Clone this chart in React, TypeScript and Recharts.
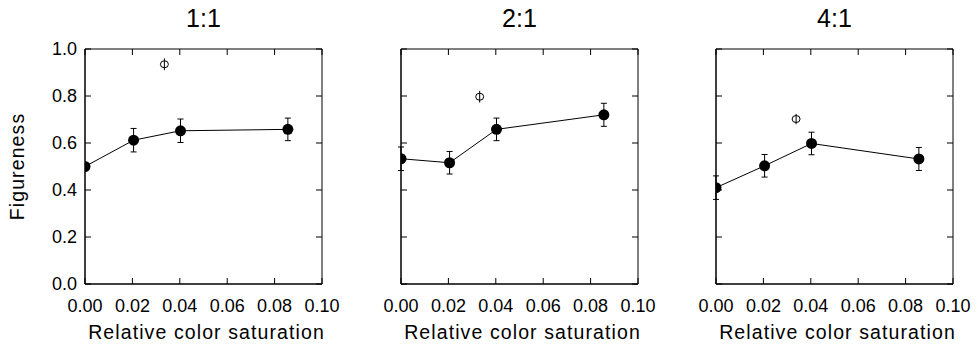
import { ScatterChart, Scatter, XAxis, YAxis, ErrorBar, ReferenceArea } from "recharts";

const panelTitles = ["1:1", "2:1", "4:1"];
const saturation = [0, 0.0205, 0.0403, 0.0856];

const figureness11 = [0.5, 0.612, 0.652, 0.658];
const figureness21 = [0.533, 0.516, 0.658, 0.72];
const figureness41 = [0.41, 0.503, 0.598, 0.532];

const error11 = [0, 0.05, 0.05, 0.048];
const error21 = [0.05, 0.048, 0.048, 0.049];
const error41 = [0.05, 0.048, 0.048, 0.049];

// open symbol (control condition) per panel
const controlSaturation = [0.0335, 0.0332, 0.0338];
const controlFigureness = [0.935, 0.797, 0.702];
const controlError = [0.025, 0.025, 0.022];

const xTicks = [0, 0.02, 0.04, 0.06, 0.08, 0.1];
const yTicks = [0, 0.2, 0.4, 0.6, 0.8, 1.0];

const allFigureness = [figureness11, figureness21, figureness41];
const allErrors = [error11, error21, error41];
const panelLefts = [0, 316, 631];

const FONT = "'Liberation Sans', Arial, Helvetica, sans-serif";
const INK = "#000";

// plot box geometry (same for every panel)
const PLOT_W = 237;
const PLOT_H = 235;
const Y_AXIS_W = 85;
const X_AXIS_H = 63;
const TOP = 49;
const TICK_LEN = 6;
const X_LABEL_GAP = 15;
const Y_LABEL_GAP = 8;

const FilledDot = (props: any) => <circle cx={props.cx} cy={props.cy} r={5.5} fill={INK} />;
const OpenDot = (props: any) => (
  <ellipse cx={props.cx} cy={props.cy} rx={4} ry={3.5} fill="none" stroke={INK} strokeWidth={1} />
);

// bottom tick: inward tick on the bottom and top edges, label below
const XTick = (props: any) => {
  const { x, y, payload } = props;
  const axisY = y - X_LABEL_GAP;
  const topY = axisY - PLOT_H;
  return (
    <g>
      <line x1={x} x2={x} y1={axisY} y2={axisY - TICK_LEN} stroke={INK} />
      <line x1={x} x2={x} y1={topY} y2={topY + TICK_LEN} stroke={INK} />
      <text
        x={x}
        y={y}
        dy="0.72em"
        textAnchor="middle"
        fontSize={18}
        fontFamily={FONT}
        fill={INK}
      >
        {Number(payload.value).toFixed(2)}
      </text>
    </g>
  );
};

const makeYTick = (showLabel: boolean) => (props: any) => {
  const { x, y, payload } = props;
  const axisX = x + Y_LABEL_GAP;
  const rightX = axisX + PLOT_W;
  return (
    <g>
      <line x1={axisX} x2={axisX + TICK_LEN} y1={y} y2={y} stroke={INK} />
      <line x1={rightX} x2={rightX - TICK_LEN} y1={y} y2={y} stroke={INK} />
      {showLabel && (
        <text
          x={x}
          y={y}
          dy="0.36em"
          textAnchor="end"
          fontSize={18}
          fontFamily={FONT}
          fill={INK}
        >
          {Number(payload.value).toFixed(1)}
        </text>
      )}
    </g>
  );
};

const YTitle = (props: any) => {
  const vb = props.viewBox || { x: 0, y: TOP, width: Y_AXIS_W, height: PLOT_H };
  const cx = vb.x + 24;
  const cy = vb.y + vb.height / 2;
  return (
    <text
      x={cx}
      y={cy}
      transform={`rotate(-90, ${cx}, ${cy})`}
      textAnchor="middle"
      fontSize={19.5}
      fontFamily={FONT}
      fill={INK}
      style={{ letterSpacing: "1.1px" }}
    >
      Figureness
    </text>
  );
};

const XTitle = (props: any) => {
  const vb = props.viewBox || { x: Y_AXIS_W, y: TOP + PLOT_H, width: PLOT_W, height: X_AXIS_H };
  return (
    <text
      x={vb.x + vb.width / 2 + 3}
      y={vb.y + 55}
      textAnchor="middle"
      fontSize={19.5}
      fontFamily={FONT}
      fill={INK}
      style={{ letterSpacing: "1.1px" }}
    >
      Relative color saturation
    </text>
  );
};

function Panel({ index }: { index: number }) {
  const series = saturation.map((x, i) => ({
    x,
    y: allFigureness[index][i],
    err: allErrors[index][i],
  }));
  const control = [
    { x: controlSaturation[index], y: controlFigureness[index], err: controlError[index] },
  ];
  const left = panelLefts[index];

  return (
    <>
      <div
        style={{
          position: "absolute",
          left: left + Y_AXIS_W,
          width: PLOT_W,
          top: 6,
          textAlign: "center",
          fontFamily: FONT,
          fontSize: 25,
          lineHeight: "25px",
          color: INK,
        }}
      >
        {panelTitles[index]}
      </div>
      <div style={{ position: "absolute", left, top: 0 }}>
        <ScatterChart
          width={Y_AXIS_W + PLOT_W + 18}
          height={TOP + PLOT_H + X_AXIS_H}
          margin={{ top: TOP, right: 18, bottom: 0, left: 0 }}
        >
          <XAxis
            type="number"
            dataKey="x"
            domain={[0, 0.1]}
            ticks={xTicks}
            interval={0}
            allowDataOverflow
            height={X_AXIS_H}
            tickLine={false}
            tickSize={0}
            tickMargin={X_LABEL_GAP}
            tick={XTick}
            stroke={INK}
            label={XTitle}
          />
          <YAxis
            type="number"
            dataKey="y"
            domain={[0, 1]}
            ticks={yTicks}
            interval={0}
            allowDataOverflow
            width={Y_AXIS_W}
            tickLine={false}
            tickSize={0}
            tickMargin={Y_LABEL_GAP}
            tick={makeYTick(index === 0)}
            stroke={INK}
            label={index === 0 ? YTitle : undefined}
          />
          <ReferenceArea x1={0} x2={0.1} y1={0} y2={1} fill="none" stroke={INK} strokeWidth={1} ifOverflow="visible" />
          <Scatter
            data={series}
            line={{ stroke: INK, strokeWidth: 1 }}
            lineType="joint"
            shape={FilledDot}
            isAnimationActive={false}
          >
            <ErrorBar dataKey="err" direction="y" width={3} stroke={INK} strokeWidth={1} isAnimationActive={false} />
          </Scatter>
          <Scatter data={control} shape={OpenDot} isAnimationActive={false}>
            <ErrorBar dataKey="err" direction="y" width={0} stroke={INK} strokeWidth={1} isAnimationActive={false} />
          </Scatter>
        </ScatterChart>
      </div>
    </>
  );
}

export default function App() {
  return (
    <div
      style={{
        position: "absolute",
        left: 0,
        top: 0,
        width: 978,
        height: 347,
        background: "#fff",
        overflow: "hidden",
      }}
    >
      {panelTitles.map((_, i) => (
        <Panel key={i} index={i} />
      ))}
    </div>
  );
}
